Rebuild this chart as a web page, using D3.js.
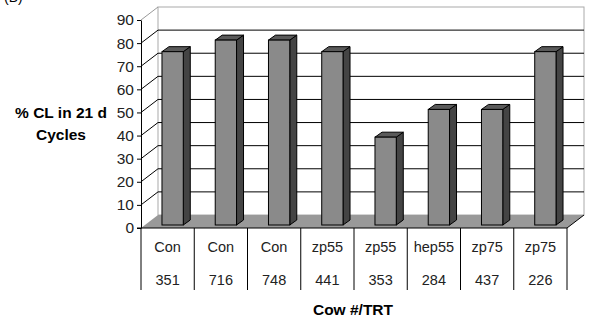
<!DOCTYPE html>
<html>
<head>
<meta charset="utf-8">
<script src="https://cdn.jsdelivr.net/npm/d3@7"></script>
<style>
  body { margin: 0; background: #fff; }
  text { font-family: "Liberation Sans", Arial, sans-serif; }
</style>
</head>
<body>
<div id="chart"></div>
<script>
// chart data
var treatments = ["Con", "Con", "Con", "zp55", "zp55", "hep55", "zp75", "zp75"];
var cows = ["351", "716", "748", "441", "353", "284", "437", "226"];
var pctCL = [75, 80, 80, 75, 38, 50, 50, 75];
var yTicks = [0, 10, 20, 30, 40, 50, 60, 70, 80, 90];

var w = 589, h = 318;
var x0 = 141, x1 = 567;
var dx = 17, dy = -13;   // depth of the 3d box

var svg = d3.select("#chart").append("svg")
    .attr("width", w)
    .attr("height", h);

var x = d3.scaleBand().domain(d3.range(cows.length)).range([x0, x1]).padding(0);
var y = d3.scaleLinear().domain([0, 90]).range([228, 20]);

// panel letter, mostly cut off at the top like the original
svg.append("text").attr("x", 4).attr("y", 2).attr("font-size", 14).attr("fill", "#000").text("(B)");

// left wall + back wall
svg.append("path")
    .attr("d", "M" + x0 + "," + y(0) + "L" + x0 + "," + y(90) + "L" + (x0 + dx) + "," + (y(90) + dy) + "L" + (x0 + dx) + "," + (y(0) + dy) + "Z")
    .attr("fill", "#fff").attr("stroke", "none");
svg.append("rect")
    .attr("x", x0 + dx).attr("y", y(90) + dy)
    .attr("width", x1 - x0).attr("height", y(0) - y(90))
    .attr("fill", "#fff").attr("stroke", "#aaa").attr("stroke-width", 1);

// grid lines
var grid = svg.append("g");
yTicks.slice(1, -1).forEach(function(v) {
  grid.append("line")
    .attr("x1", x0 + dx).attr("x2", x1 + dx)
    .attr("y1", y(v) + dy).attr("y2", y(v) + dy)
    .attr("stroke", "#000").attr("stroke-width", 1);
});
yTicks.slice(1).forEach(function(v) {
  grid.append("line")
    .attr("x1", x0).attr("x2", x0 + dx)
    .attr("y1", y(v)).attr("y2", y(v) + dy)
    .attr("stroke", v == 90 ? "#999" : "#000").attr("stroke-width", 1);
});

// floor
svg.append("path")
    .attr("d", "M" + x0 + "," + y(0) + "L" + (x0 + dx) + "," + (y(0) + dy) + "L" + (x1 + dx) + "," + (y(0) + dy) + "L" + x1 + "," + y(0) + "Z")
    .attr("fill", "#999").attr("stroke", "none");
svg.append("line")
    .attr("x1", x1).attr("y1", y(0)).attr("x2", x1 + dx).attr("y2", y(0) + dy)
    .attr("stroke", "#000");

// bars
var bw = x.bandwidth() * 0.4;
var fx = 5, fy = -3;      // front face shift into the box
var bdx = 7, bdy = -5;    // bar depth
var bars = svg.append("g").selectAll("g").data(pctCL).enter().append("g");

bars.append("path") // side
    .attr("d", function(d, i) {
      var xr = x(i) + x.bandwidth() / 2 - bw / 2 + fx + bw;
      var yb = y(0) + fy, yt = y(d) + fy;
      return "M" + xr + "," + yb + "L" + xr + "," + yt + "L" + (xr + bdx) + "," + (yt + bdy) + "L" + (xr + bdx) + "," + (yb + bdy) + "Z";
    })
    .attr("fill", "#444").attr("stroke", "#000").attr("stroke-width", 1).attr("stroke-linejoin", "round");

bars.append("path") // top
    .attr("d", function(d, i) {
      var xl = x(i) + x.bandwidth() / 2 - bw / 2 + fx;
      var yt = y(d) + fy;
      return "M" + xl + "," + yt + "L" + (xl + bdx) + "," + (yt + bdy) + "L" + (xl + bw + bdx) + "," + (yt + bdy) + "L" + (xl + bw) + "," + yt + "Z";
    })
    .attr("fill", "#5a5a5a").attr("stroke", "#000").attr("stroke-width", 1).attr("stroke-linejoin", "round");

bars.append("rect") // front
    .attr("x", function(d, i) { return x(i) + x.bandwidth() / 2 - bw / 2 + fx; })
    .attr("y", function(d) { return y(d) + fy; })
    .attr("width", bw)
    .attr("height", function(d) { return y(0) - y(d); })
    .attr("fill", "#8a8a8a").attr("stroke", "#000").attr("stroke-width", 1);

// y axis
var yAxis = svg.append("g").attr("transform", "translate(" + x0 + ",0)")
    .call(d3.axisLeft(y).tickValues(yTicks).tickSize(4).tickPadding(3).tickSizeOuter(0));
yAxis.select(".domain").attr("stroke", "#000");
yAxis.selectAll("text").attr("font-size", 15.5).attr("fill", "#222")
    .attr("font-family", "Liberation Sans, Arial, sans-serif");

// category table below the floor
svg.append("line").attr("x1", x0 - 4).attr("x2", x1).attr("y1", y(0)).attr("y2", y(0)).attr("stroke", "#000");
var seps = d3.range(cows.length + 1).map(function(i) { return i < cows.length ? x(i) : x1; });
svg.append("g").selectAll("line").data(seps).enter().append("line")
    .attr("x1", function(d) { return d; }).attr("x2", function(d) { return d; })
    .attr("y1", y(0)).attr("y2", 290)
    .attr("stroke", "#000");

svg.append("g").selectAll("text").data(treatments).enter().append("text")
    .attr("x", function(d, i) { return x(i) + x.bandwidth() / 2; })
    .attr("y", 252)
    .attr("text-anchor", "middle").attr("font-size", 14.5).attr("fill", "#222")
    .text(function(d) { return d; });
svg.append("g").selectAll("text").data(cows).enter().append("text")
    .attr("x", function(d, i) { return x(i) + x.bandwidth() / 2; })
    .attr("y", 285)
    .attr("text-anchor", "middle").attr("font-size", 14.5).attr("fill", "#222")
    .text(function(d) { return d; });

// axis titles
svg.append("text").attr("x", 61).attr("y", 118).attr("text-anchor", "middle")
    .attr("font-size", 15.5).attr("font-weight", "bold").text("% CL in 21 d");
svg.append("text").attr("x", 61).attr("y", 140).attr("text-anchor", "middle")
    .attr("font-size", 15.5).attr("font-weight", "bold").text("Cycles");
svg.append("text").attr("x", 353).attr("y", 315).attr("text-anchor", "middle")
    .attr("font-size", 15.5).attr("font-weight", "bold").text("Cow #/TRT");
</script>
</body>
</html>
